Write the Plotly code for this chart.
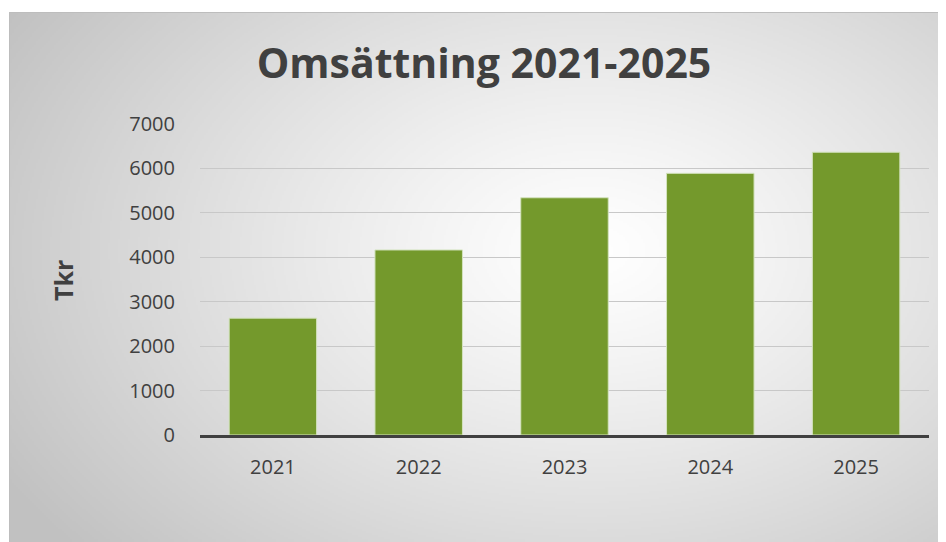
import base64, struct, zlib
import numpy as np
import plotly.graph_objects as go

years = ["2021", "2022", "2023", "2024", "2025"]
revenue = [2630, 4165, 5340, 5890, 6365]
y_ticks = [0, 1000, 2000, 3000, 4000, 5000, 6000, 7000]

O = 8  # page offset of the plot div (body margin)
W, H = 946 - O, 542 - O
L, R, T, B = 200 - O, 17, 124 - O, 107
pw, ph = W - L - R, H - T - B

def px_to_paper_x(sx):
    return (sx - O - L) / pw

def px_to_paper_y(sy):
    return (H - B - (sy - O)) / ph

# radial gradient background image (screen coordinates)
bx0, by0 = 9, 12
gw, gh = (946 - bx0) // 2, (542 - by0) // 2
yy, xx = np.mgrid[0:gh, 0:gw].astype(float)
xx = xx * 2 + bx0
yy = yy * 2 + by0
cx, cy = 590, 250
d = np.sqrt(((xx - cx) / 620) ** 2 + ((yy - cy) / 420) ** 2)
val = 255 - 62 * np.clip(d / 1.1, 0, 1) ** 1.2
img = val.astype(np.uint8)

def make_png(a):
    h, w = a.shape
    raw = b"".join(b"\x00" + a[i].tobytes() for i in range(h))
    def chunk(t, data):
        c = struct.pack(">I", len(data)) + t + data
        return c + struct.pack(">I", zlib.crc32(t + data) & 0xffffffff)
    png = b"\x89PNG\r\n\x1a\n"
    png += chunk(b"IHDR", struct.pack(">IIBBBBB", w, h, 8, 0, 0, 0, 0))
    png += chunk(b"IDAT", zlib.compress(raw, 9))
    png += chunk(b"IEND", b"")
    return "data:image/png;base64," + base64.b64encode(png).decode()

src = make_png(img)

fig = go.Figure(go.Bar(
    x=years, y=revenue,
    marker=dict(color="#74992C", line=dict(color="#D4E3BF", width=1)),
    width=0.6,
))

fig.update_layout(
    width=W, height=H,
    margin=dict(l=L, r=R, t=T, b=B),
    paper_bgcolor="white",
    plot_bgcolor="rgba(0,0,0,0)",
    showlegend=False,
    font=dict(family="Open Sans", color="#404040"),
    title=dict(
        text="<b>Omsättning 2021-2025</b>",
        font=dict(family="Open Sans", size=41, color="#404040"),
        x=(484 - O) / W, xanchor="center", xref="container",
        y=1 - (64 - O) / H, yanchor="middle", yref="container",
    ),
    images=[dict(
        source=src, xref="paper", yref="paper",
        x=px_to_paper_x(bx0), y=px_to_paper_y(by0),
        sizex=(946 - bx0) / pw, sizey=(542 - by0) / ph,
        xanchor="left", yanchor="top", sizing="stretch", layer="below",
    )],
    shapes=[dict(
        type="rect", xref="paper", yref="paper", layer="below",
        x0=px_to_paper_x(bx0 + 0.5), y0=px_to_paper_y(560),
        x1=px_to_paper_x(960), y1=px_to_paper_y(by0 + 0.5),
        line=dict(color="#BDBDBD", width=1), fillcolor="rgba(0,0,0,0)",
    )],
    annotations=[dict(
        text="<b>Tkr</b>", textangle=-90, showarrow=False,
        xref="paper", yref="paper",
        x=px_to_paper_x(63), y=px_to_paper_y(281),
        xanchor="center", yanchor="middle",
        font=dict(family="Open Sans", size=25, color="#404040"),
    )],
    bargap=0.4,
)

fig.update_xaxes(
    showline=True, linecolor="#404040", linewidth=3,
    ticks="outside", ticklen=12, tickcolor="rgba(0,0,0,0)",
    tickfont=dict(size=20, color="#404040"),
    showgrid=False,
)
fig.update_yaxes(
    range=[0, 7000], tickvals=y_ticks,
    showgrid=True, gridcolor="#C8C8C8", gridwidth=1,
    zeroline=False, showline=False,
    ticks="outside", ticklen=20, tickcolor="rgba(0,0,0,0)",
    tickfont=dict(size=20, color="#404040"),
)

fig.write_html("out.html")
